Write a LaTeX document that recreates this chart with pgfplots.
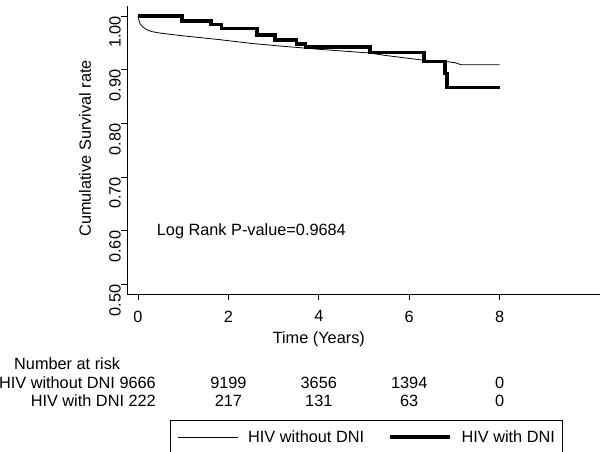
\documentclass[border=0pt]{standalone}
\usepackage{fontspec}
\setmainfont{Liberation Sans}
\usepackage{pgfplots}
\pgfplotsset{compat=1.18}
\newcommand{\fsz}{\fontsize{16.3}{19}\selectfont}

\begin{document}
\begin{tikzpicture}[font=\fsz, x=1pt, y=1pt]
\useasboundingbox (0,0) rectangle (600,452);
\begin{axis}[
  at={(127pt,158pt)}, anchor=south west,
  scale only axis, width=473pt, height=288pt,
  xmin=-0.243, xmax=10.22, ymin=0.4823, ymax=1.0186,
  axis x line*=bottom, axis y line*=left,
  axis line style={line width=0.8pt, black},
  xtick={0,2,4,6,8}, ytick={0.5,0.6,0.7,0.8,0.9,1.0},
  tick align=outside, major tick length=6pt,
  tick style={line width=0.8pt, black},
  /pgf/number format/assume math mode=true,
  yticklabel style={/pgf/number format/fixed, /pgf/number format/fixed zerofill, /pgf/number format/precision=2},
  yticklabel style={font=\fsz, rotate=90, anchor=south, inner sep=0pt, xshift=-16pt},
  xticklabel style={font=\fsz, anchor=north, inner sep=0pt, yshift=-10.5pt},
  clip=false,
  legend columns=2,
  legend style={at={(0.0909,-0.4375)}, anchor=north west, draw=black,
    line width=0.8pt, inner xsep=7pt, inner ysep=10pt, font=\fsz,
    nodes={inner sep=0pt},
    /tikz/every odd column/.append style={column sep=10pt},
    /tikz/every even column/.append style={column sep=24pt}},
  legend image code/.code={\draw[#1] (0pt,0pt) -- (60pt,0pt);},
]
\addplot[black, line width=0.8pt] coordinates {
(0,1.000) (0.02,0.992) (0.05,0.985) (0.1,0.980) (0.18,0.975) (0.3,0.971)
(0.5,0.968) (1.0,0.963) (1.8,0.956) (2.5,0.949) (3.15,0.944) (4.0,0.938)
(5.13,0.931) (5.43,0.927) (6.28,0.918) (6.83,0.915) (7.01,0.913)
(7.16,0.909) (8.0,0.909)};
\addlegendentry{HIV without DNI}
\addplot[black, line width=3.5pt, const plot] coordinates {
(0,1.000) (0.97,0.991) (1.62,0.984) (1.85,0.977) (2.63,0.965) (3.03,0.955)
(3.51,0.948) (3.70,0.942) (5.13,0.932) (6.33,0.915) (6.79,0.893)
(6.84,0.867) (8.0,0.867)};
\addlegendentry{HIV with DNI}
\end{axis}
\node[rotate=90] at (85,303.6) {Cumulative Survival rate};
\node[anchor=west, inner sep=0pt] at (156.7,220.3) {Log Rank P-value=0.9684};
\node[anchor=base, inner sep=0pt] at (318.8,108) {Time (Years)};
\node[anchor=base west, inner sep=0pt] at (14,82) {Number at risk};
\node[anchor=base east, inner sep=0pt] at (156,63.7) {HIV without DNI 9666};
\node[anchor=base east, inner sep=0pt] at (156,45.3) {HIV with DNI 222};
\foreach \t/\a/\b in {2/9199/217, 4/3656/131, 6/1394/63, 8/0/0} {
  \node[anchor=base, inner sep=0pt] at ({138+45.2*\t},63.7) {\a};
  \node[anchor=base, inner sep=0pt] at ({138+45.2*\t},45.3) {\b};
}
\end{tikzpicture}
\end{document}
